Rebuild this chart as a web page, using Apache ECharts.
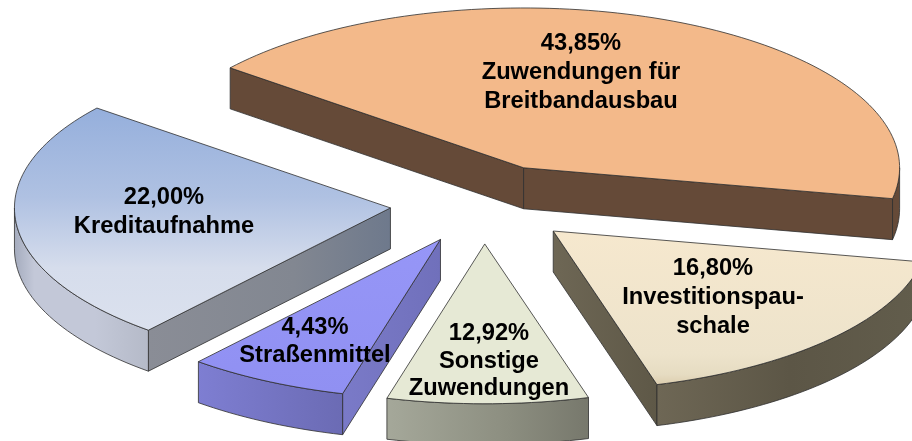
<!DOCTYPE html>
<html>
<head>
<meta charset="utf-8">
<style>html,body{margin:0;padding:0;background:#fff}#c{width:912px;height:441px}</style>
<script src="https://cdn.jsdelivr.net/npm/echarts@6/dist/echarts.min.js"></script>
</head>
<body>
<div id="c"></div>
<script>
// data
var names = ['Zuwendungen für\nBreitbandausbau', 'Investitionspau-\nschale', 'Sonstige\nZuwendungen', 'Straßenmittel', 'Kreditaufnahme'];
var shares = [43.85, 16.80, 12.92, 4.43, 22.00];

// pie view (projection of the original 3D chart)
var view = { cx: 484, cy: 204, r: 376, tilt: 0.425, explode: 94, depth: 41, start: 141.3 };
var sweepScale = [0.9657, 1.039, 0.6687, 1.567, 1.1187];
var labelAt = [[581, 72], [713, 297], [489, 361], [315, 341], [164, 212]];
var labelLine = [29, 29, 27.5, 28, 29];

// styles
var topFill = [
  [['#F3B98A', 0], ['#F3B98A', 1]],
  [['#F6E8CE', 0], ['#EDE3CB', 0.8], ['#E6DCC2', 0.93], ['#DCCDAE', 1]],
  [['#E6E9D5', 0], ['#E6E9D5', 1]],
  [['#9696F7', 0], ['#9090F2', 1]],
  [['#95AFDC', 0], ['#AFC1E2', 0.4], ['#D6DDEC', 0.72], ['#DBE1EE', 1]]
];
var rimFill = [
  [['#654A38', 0], ['#654A38', 1]],
  [['#6E6755', 0], ['#5C5646', 0.5], ['#625D4C', 1]],
  [['#A5A89A', 0], ['#8C8E80', 0.6], ['#77786C', 1]],
  [['#7E7ED2', 0], ['#6B6BB4', 1]],
  [['#A4ABBD', 0], ['#C3C8D8', 0.15], ['#C3C8D8', 0.6], ['#B5BAC8', 1]]
];
var wallFill = [
  [['#654A38', 0], ['#654A38', 1]],
  [['#6E6755', 0], ['#5E5847', 1]],
  [['#8C8E80', 0], ['#8C8E80', 1]],
  [['#7A7AC8', 0], ['#7070BB', 1]],
  [['#8A8D96', 0], ['#828791', 0.6], ['#6E798C', 1]]
];
var edge = '#2E2E2E';

function grad(stops) {
  return new echarts.graphic.LinearGradient(0, 0, 1, 0, stops.map(function (s) {
    return { offset: s[1], color: s[0] };
  }));
}
function gradV(stops) {
  return new echarts.graphic.LinearGradient(0, 0, 0, 1, stops.map(function (s) {
    return { offset: s[1], color: s[0] };
  }));
}

// boundary angles, walked clockwise from the values
var bounds = [view.start];
shares.forEach(function (v, i) {
  bounds.push(bounds[i] - v * 3.6 * sweepScale[i]);
});

function dir(deg) {
  var a = deg * Math.PI / 180;
  return [Math.cos(a), -Math.sin(a) * view.tilt];
}
function arc(c, from, to, dy) {
  var pts = [], n = Math.max(2, Math.ceil(Math.abs(from - to) / 1.5));
  for (var i = 0; i <= n; i++) {
    var d = dir(from + (to - from) * i / n);
    pts.push([c[0] + view.r * d[0], c[1] + view.r * d[1] + dy]);
  }
  return pts;
}
function poly(points, fill, z) {
  return {
    type: 'polygon', z2: z, shape: { points: points },
    style: { fill: fill, stroke: edge, lineWidth: 0.8, lineJoin: 'round' }
  };
}

function renderItem(params, api) {
  var i = params.dataIndex;
  var value = api.value(0);
  var a0 = bounds[i], a1 = bounds[i + 1], mid = (a0 + a1) / 2;
  var m = dir(mid);
  var apex = [view.cx + view.explode * m[0], view.cy + view.explode * m[1]];
  var h = view.depth;
  var kids = [];

  // straight walls that face the viewer
  [a0, a1].forEach(function (ang) {
    var d = dir(ang);
    var n = [-d[1], d[0]];
    if (n[0] * m[0] + n[1] * m[1] > 0) { n = [-n[0], -n[1]]; }
    if (n[1] > 0) {
      var e = [apex[0] + view.r * d[0], apex[1] + view.r * d[1]];
      kids.push(poly([apex, e, [e[0], e[1] + h], [apex[0], apex[1] + h]], grad(wallFill[i]), 1));
    }
  });

  // curved rim: the part of the arc on the near side
  var lo = a1, hi = Math.min(a0, 0);
  if (lo < -180) { lo = -180; }
  if (hi > lo) {
    var top = arc(apex, hi, lo, 0), bottom = arc(apex, lo, hi, h);
    kids.push(poly(top.concat(bottom), grad(rimFill[i]), 2));
  }

  // top face
  kids.push(poly([apex].concat(arc(apex, a0, a1, 0)), gradV(topFill[i]), 3));

  kids.push({
    type: 'text', z2: 4,
    x: labelAt[i][0], y: labelAt[i][1],
    style: {
      text: value.toFixed(2).replace('.', ',') + '%\n' + names[i],
      fill: '#000', align: 'center', verticalAlign: 'middle',
      font: 'bold 23.7px "Liberation Sans", Arial, sans-serif', lineHeight: labelLine[i]
    }
  });
  return { type: 'group', children: kids };
}

var chart = echarts.init(document.getElementById('c'), null, { renderer: 'canvas' });
chart.setOption({
  animation: false,
  backgroundColor: '#fff',
  series: [{
    type: 'custom',
    coordinateSystem: 'none',
    renderItem: renderItem,
    data: shares.map(function (v) { return [v]; }),
    silent: true
  }]
});
</script>
</body>
</html>
